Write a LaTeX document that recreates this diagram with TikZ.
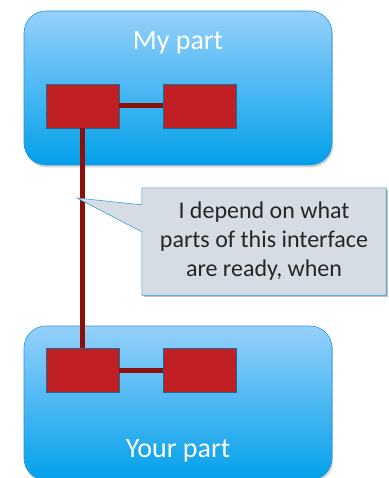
\documentclass[tikz,border=0pt]{standalone}
\usepackage{fontspec}
\setmainfont{Carlito}
\usetikzlibrary{shadows,calc}
\definecolor{skytop}{RGB}{150,208,251}
\definecolor{skybot}{RGB}{2,160,234}
\definecolor{skyedge}{RGB}{40,150,215}
\definecolor{partred}{RGB}{192,32,36}
\definecolor{linkred}{RGB}{140,16,10}
\definecolor{notefill}{RGB}{214,220,228}
\definecolor{noteedge}{RGB}{60,160,220}
\definecolor{notetext}{RGB}{38,38,38}
\tikzset{
  partbox/.style={draw=skyedge, line width=0.6pt, rounded corners=22pt,
    top color=skytop, bottom color=skybot, shading angle=0,
    minimum width=308pt, minimum height=154pt, inner sep=0pt,
    drop shadow={opacity=0.35, shadow xshift=1pt, shadow yshift=-2.5pt}},
  piece/.style={draw=skyedge!70!black, line width=0.5pt, fill=partred,
    minimum width=73pt, minimum height=44pt, inner sep=0pt,
    drop shadow={opacity=0.25, shadow xshift=0.8pt, shadow yshift=-1pt}},
  link/.style={draw=linkred, line width=5pt},
  title/.style={text=white, font=\fontsize{28}{32}\selectfont},
  notetxt/.style={text=notetext, font=\fontsize{24}{29}\selectfont, align=center}
}
\begin{document}
\begin{tikzpicture}[x=1pt,y=-1pt]
\useasboundingbox (0,0) rectangle (388,478);
% the two parts
\node[partbox] (mine) at (178,88) {};
\node[partbox] (yours) at (178,403) {};
\node[title] (minelabel) at (178,43) {My part};
\node[title] (yourslabel) at (178,451) {Your part};
% links between the pieces
\node[piece] (m1) at (82.5,106) {};
\node[piece] (m2) at (199.5,106) {};
\node[piece] (y1) at (82.5,370) {};
\node[piece] (y2) at (199.5,370) {};
\draw[link] (m1.east) -- (m2.west);
\draw[link] (y1.east) -- (y2.west);
\draw[link] (m1.south) -- (y1.north);
% callout
\coordinate (tip) at (77,198);
\node[minimum width=244pt, minimum height=107pt, inner sep=0pt] (note) at (264,241.5) {};
\fill[black, opacity=0.25] ($(note.north west)+(2,2)$) rectangle ($(note.south east)+(2,2)$);
\draw[noteedge, line width=0.6pt, fill=notefill]
  (note.north west) -- (note.north east) -- (note.south east) -- (note.south west)
  -- ($(note.north west)+(0,44)$) -- (tip) -- ($(note.north west)+(0,17)$) -- cycle;
\node[notetxt] (notelabel) at (note.center) {I depend on what\\parts of this interface\\are ready, when};
\end{tikzpicture}
\end{document}
